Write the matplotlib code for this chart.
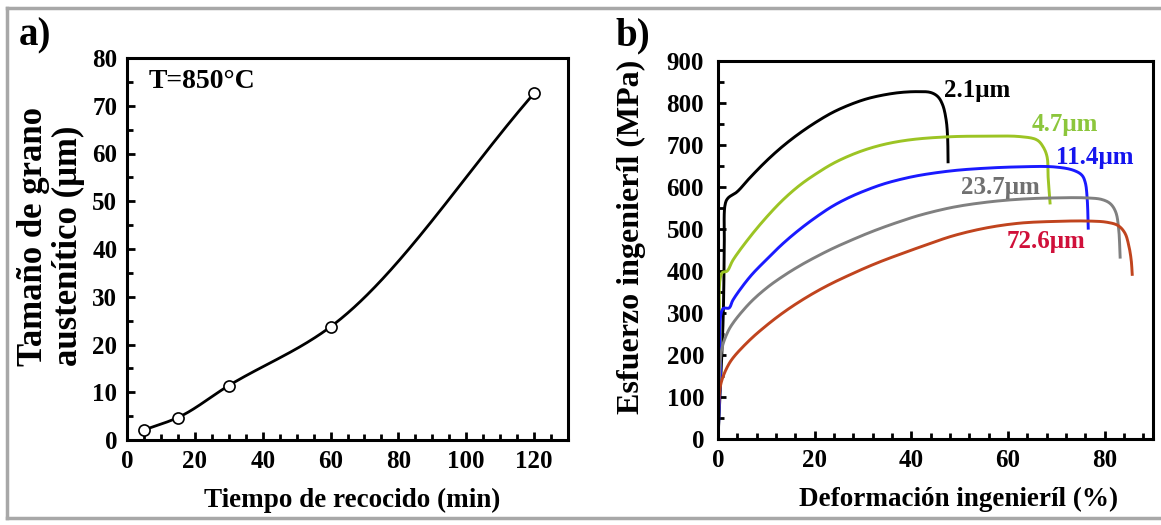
import numpy as np
import matplotlib.pyplot as plt
from matplotlib.ticker import MultipleLocator
from matplotlib.lines import Line2D

plt.rcParams['font.family'] = ['Liberation Serif', 'DejaVu Serif']
plt.rcParams['font.weight'] = 'bold'
plt.rcParams['axes.labelweight'] = 'bold'

# a) tamano de grano vs tiempo de recocido
tiempo = [5, 15, 30, 60, 120]
tamano = [2.1, 4.7, 11.4, 23.7, 72.6]

# b) curvas esfuerzo-deformacion (leidas de la figura)
def_21 = [0, 0.6, 1.1, 1.3, 1.5, 2.1, 3.9, 6.6, 10.1, 13.5, 17, 20.5, 23.8, 27.3,
          30.8, 34.2, 37.7, 41.2, 44.0, 45.5, 46.5, 47.2, 47.5, 47.6]
esf_21 = [0, 150, 300, 450, 560, 574, 588, 622, 663, 698, 729, 756, 778, 796,
          810, 819, 825, 827, 825, 815, 795, 760, 720, 660]

def_47 = [0, 0.5, 0.8, 1.9, 3.1, 6.6, 10.1, 13.5, 17, 20.5, 23.8, 27.3, 30.8,
          34.2, 37.7, 41.8, 48.7, 55.7, 62.5, 66.0, 67.3, 68.1, 68.3, 68.7]
esf_47 = [0, 200, 395, 400, 426, 481, 529, 570, 605, 633, 656, 675, 690,
          701, 709, 715, 720, 721, 720, 712, 695, 671, 624, 562]

def_114 = [0, 0.5, 1.0, 2.3, 3.1, 6.6, 10.1, 13.5, 17, 20.5, 23.8, 27.3, 30.8,
           34.2, 37.7, 41.8, 48.7, 55.7, 62.5, 69.4, 73.5, 75.3, 76.0, 76.4, 76.6]
esf_114 = [0, 150, 310, 312, 331, 386, 428, 466, 500, 530, 555, 576, 593,
           607, 618, 628, 639, 645, 648, 648, 640, 628, 610, 569, 502]

def_237 = [0, 0.3, 0.8, 1.9, 3.1, 6.6, 10.1, 13.5, 17, 20.5, 23.8, 27.3, 30.8,
           34.2, 37.7, 41.8, 48.7, 55.7, 62.5, 69.4, 76.4, 79.5, 81.2, 82.3,
           82.9, 83.2]
esf_237 = [0, 150, 215, 252, 276, 324, 360, 388, 413, 435, 454, 472, 489,
           504, 518, 533, 552, 564, 571, 574, 574, 570, 560, 540, 500, 433]

def_726 = [0, 0.3, 0.8, 1.9, 3.1, 6.6, 10.1, 13.5, 17, 20.5, 23.8, 27.3, 30.8,
           34.2, 37.7, 41.8, 48.7, 55.7, 62.5, 69.4, 76.4, 80.5, 82.8, 84.2,
           85.0, 85.5, 85.7]
esf_726 = [0, 110, 140, 171, 193, 236, 271, 301, 328, 352, 372, 391, 409,
           425, 440, 457, 484, 503, 514, 518, 519, 516, 508, 490, 460, 425, 392]

etiquetas = ['2.1μm', '4.7μm', '11.4μm', '23.7μm', '72.6μm']
pos_etiquetas = [(46.8, 830), (64.8, 750), (70.0, 671), (50.3, 598), (59.8, 471)]
colores_linea = ['#000000', '#9cc424', '#1a1aff', '#808080', '#c0441e']
colores_texto = ['#000000', '#8cc63c', '#1515ee', '#707070', '#d0103a']


def pchip(x, y, n=300):
    # interpolacion monotona para la linea suave del panel a)
    x = np.asarray(x, float)
    y = np.asarray(y, float)
    h = np.diff(x)
    dl = np.diff(y) / h
    m = np.zeros_like(y)
    m[0], m[-1] = dl[0], dl[-1]
    for i in range(1, len(x) - 1):
        if dl[i - 1] * dl[i] > 0:
            w1 = 2 * h[i] + h[i - 1]
            w2 = h[i] + 2 * h[i - 1]
            m[i] = (w1 + w2) / (w1 / dl[i - 1] + w2 / dl[i])
    xs = np.linspace(x[0], x[-1], n)
    k = np.clip(np.searchsorted(x, xs) - 1, 0, len(x) - 2)
    t = (xs - x[k]) / h[k]
    ys = ((2 * t**3 - 3 * t**2 + 1) * y[k] + (t**3 - 2 * t**2 + t) * h[k] * m[k]
          + (-2 * t**3 + 3 * t**2) * y[k + 1] + (t**3 - t**2) * h[k] * m[k + 1])
    return xs, ys


def suave(x, y, sx, sy, n=10):
    # Catmull-Rom centripeto en espacio de pixeles, solo para dibujar
    P = np.column_stack([np.asarray(x, float) * sx, np.asarray(y, float) * sy])
    P = np.vstack([2 * P[0] - P[1], P, 2 * P[-1] - P[-2]])
    out = []
    for i in range(1, len(P) - 2):
        p0, p1, p2, p3 = P[i - 1], P[i], P[i + 1], P[i + 2]
        t0 = 0.0
        t1 = t0 + np.linalg.norm(p1 - p0) ** 0.5
        t2 = t1 + np.linalg.norm(p2 - p1) ** 0.5
        t3 = t2 + np.linalg.norm(p3 - p2) ** 0.5
        t = np.linspace(t1, t2, n, endpoint=False)[:, None]
        a1 = (t1 - t) / (t1 - t0) * p0 + (t - t0) / (t1 - t0) * p1
        a2 = (t2 - t) / (t2 - t1) * p1 + (t - t1) / (t2 - t1) * p2
        a3 = (t3 - t) / (t3 - t2) * p2 + (t - t2) / (t3 - t2) * p3
        b1 = (t2 - t) / (t2 - t0) * a1 + (t - t0) / (t2 - t0) * a2
        b2 = (t3 - t) / (t3 - t1) * a2 + (t - t1) / (t3 - t1) * a3
        out.append((t2 - t) / (t2 - t1) * b1 + (t - t1) / (t2 - t1) * b2)
    out.append(P[-2][None, :])
    Q = np.vstack(out)
    return Q[:, 0] / sx, Q[:, 1] / sy


def estilo(ax):
    for s in ax.spines.values():
        s.set_linewidth(2.2)
    ax.tick_params(which='both', direction='in', top=False, right=False,
                   width=2, labelsize=18)
    ax.tick_params(which='major', length=6, pad=7)
    ax.tick_params(which='minor', length=4)


fig = plt.figure(figsize=(11.61, 5.25), dpi=100)

# panel a)
ax1 = fig.add_axes([127 / 1161, 1 - 440 / 525, 441 / 1161, 382 / 525])
xs, ys = pchip(tiempo, tamano)
ax1.plot(xs, ys, color='black', lw=2)
ax1.plot(tiempo, tamano, 'o', ms=8, mfc='white', mec='black', mew=1.2)
ax1.set_xlim(0, 130)
ax1.set_ylim(0, 80)
ax1.xaxis.set_major_locator(MultipleLocator(20))
ax1.xaxis.set_minor_locator(MultipleLocator(5))
ax1.yaxis.set_major_locator(MultipleLocator(10))
ax1.yaxis.set_minor_locator(MultipleLocator(5))
estilo(ax1)
ax1.text(6.5, 75, 'T=850°C', fontsize=20, va='center', ha='left')
ax1.set_xlabel('Tiempo de recocido (min)', fontsize=19.5)
ax1.xaxis.set_label_coords(0.511, -0.157)
ax1.xaxis.label.set_va('center')
ax1.set_ylabel('Tamaño de grano\naustenítico (μm)', fontsize=25, linespacing=1.1,
               multialignment='left')
ax1.yaxis.set_label_coords(-0.172, 0.534)
ax1.yaxis.label.set_va('center')

# panel b)
ax2 = fig.add_axes([718 / 1161, 1 - 439 / 525, 435 / 1161, 378 / 525])
curvas = [(def_21, esf_21), (def_47, esf_47), (def_114, esf_114),
          (def_237, esf_237), (def_726, esf_726)]
for (dx, sy), c in zip(curvas, colores_linea):
    cx, cy = suave(dx, sy, 435 / 90, 378 / 900)
    ax2.plot(cx, cy, color=c, lw=2.1, solid_joinstyle='round')
for t, (px, py), c in zip(etiquetas, pos_etiquetas, colores_texto):
    ax2.text(px, py, t, color=c, fontsize=18, va='center', ha='left')
ax2.set_xlim(0, 90)
ax2.set_ylim(0, 900)
ax2.xaxis.set_major_locator(MultipleLocator(20))
ax2.xaxis.set_minor_locator(MultipleLocator(4))
ax2.yaxis.set_major_locator(MultipleLocator(100))
ax2.yaxis.set_minor_locator(MultipleLocator(50))
estilo(ax2)
ax2.tick_params(axis='y', which='major', pad=10)
ax2.set_xlabel('Deformación ingenieríl (%)', fontsize=19.5)
ax2.xaxis.set_label_coords(0.552, -0.16)
ax2.xaxis.label.set_va('center')
ax2.set_ylabel('Esfuerzo ingenieríl (MPa)', fontsize=23)
ax2.yaxis.set_label_coords(-0.2, 0.534)
ax2.yaxis.label.set_va('center')

fig.text(35 / 1161, 1 - 36 / 525, 'a)', fontsize=28, ha='center', va='center')
fig.text(633 / 1161, 1 - 36 / 525, 'b)', fontsize=28, ha='center', va='center')

# marco gris
marco = dict(color='#a8a8a8', lw=2.5, transform=fig.transFigure)
fig.add_artist(Line2D([7 / 1161, 1], [1 - 8 / 525] * 2, **marco))
fig.add_artist(Line2D([7 / 1161, 1], [1 - 518 / 525] * 2, **marco))
fig.add_artist(Line2D([7 / 1161] * 2, [1 - 8 / 525, 1 - 518 / 525], **marco))

fig.savefig('out.png', dpi=100)
